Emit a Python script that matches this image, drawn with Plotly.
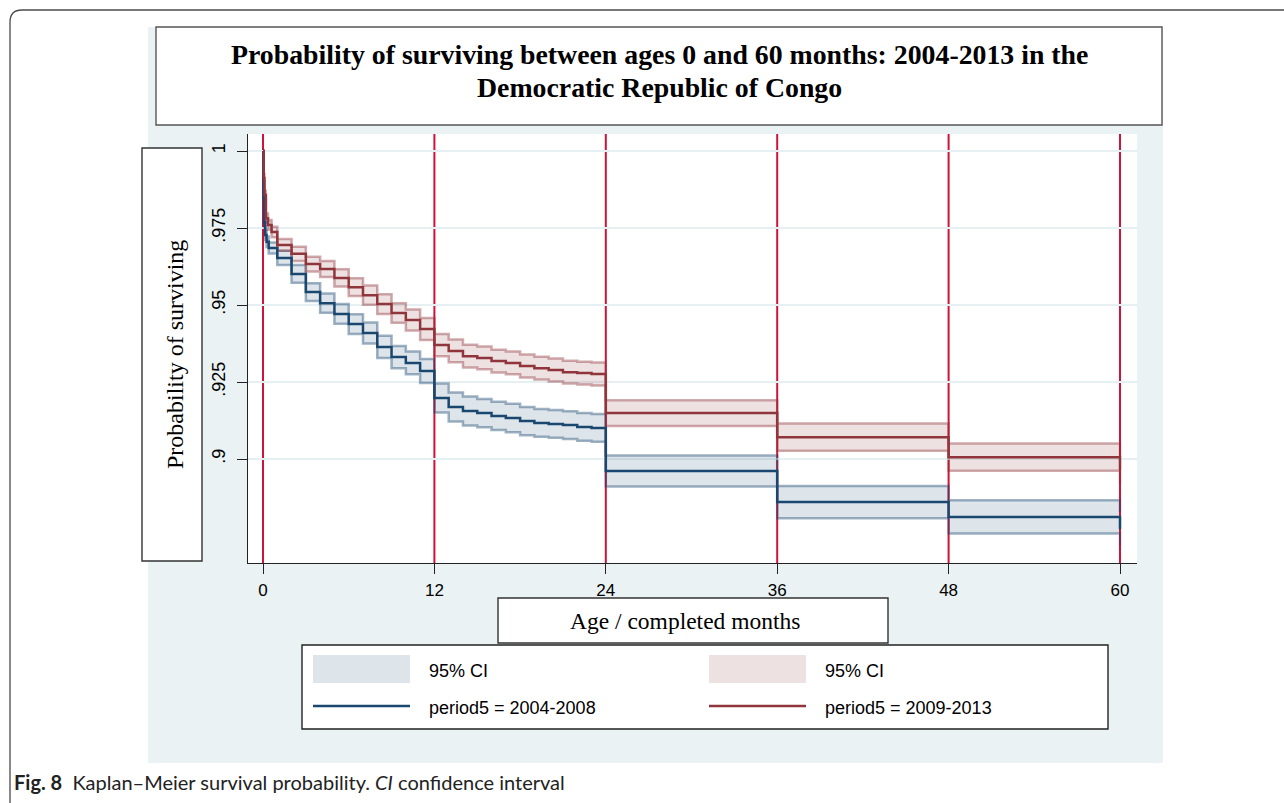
import plotly.graph_objects as go

# ---- Kaplan-Meier estimates by period (age in completed months) ----
months_2004 = [0, 0.03, 0.08, 0.15, 0.25, 0.4, 1, 2, 3, 4, 5, 6, 7, 8, 9, 10, 11,
               12, 13, 14, 15, 16, 17, 18, 19, 20, 21, 22, 23, 24, 36, 48, 60]
surv_2004 = [1.0, 0.9851, 0.9769, 0.9727, 0.9705, 0.9685, 0.9653, 0.9601, 0.9542,
             0.9506, 0.9471, 0.9438, 0.9409, 0.9364, 0.9331, 0.9312, 0.9286,
             0.9198, 0.9169, 0.9156, 0.9149, 0.9140, 0.9133, 0.9123, 0.9117,
             0.9114, 0.9110, 0.9104, 0.9101, 0.8961, 0.8860, 0.8812, 0.8773]
lower_2004 = [1.0, 0.9839, 0.9755, 0.9711, 0.9688, 0.9667, 0.9630, 0.9572, 0.9513,
              0.9475, 0.9439, 0.9406, 0.9375, 0.9328, 0.9295, 0.9275, 0.9247,
              0.9151, 0.9122, 0.9109, 0.9103, 0.9094, 0.9087, 0.9077, 0.9072,
              0.9069, 0.9065, 0.9059, 0.9056, 0.8911, 0.8808, 0.8758, 0.8718]
upper_2004 = [1.0, 0.9863, 0.9783, 0.9743, 0.9722, 0.9703, 0.9676, 0.9630, 0.9571,
              0.9537, 0.9503, 0.9470, 0.9443, 0.9400, 0.9367, 0.9349, 0.9325,
              0.9245, 0.9216, 0.9203, 0.9195, 0.9186, 0.9179, 0.9169, 0.9162,
              0.9159, 0.9155, 0.9149, 0.9146, 0.9011, 0.8912, 0.8866, 0.8828]

months_2009 = [0, 0.05, 0.1, 0.2, 0.35, 0.6, 1, 2, 3, 4, 5, 6, 7, 8, 9, 10, 11,
               12, 13, 14, 15, 16, 17, 18, 19, 20, 21, 22, 23, 24, 36, 48, 60]
surv_2009 = [1.0, 0.9912, 0.9857, 0.9782, 0.9760, 0.9737, 0.9695, 0.9666, 0.9633,
             0.9617, 0.9588, 0.9558, 0.9532, 0.9503, 0.9474, 0.9451, 0.9422,
             0.9370, 0.9351, 0.9334, 0.9328, 0.9318, 0.9312, 0.9302, 0.9295,
             0.9289, 0.9282, 0.9279, 0.9276, 0.9149, 0.9071, 0.9006, 0.8964]
lower_2009 = [1.0, 0.9899, 0.9843, 0.9767, 0.9744, 0.9720, 0.9676, 0.9643, 0.9609,
              0.9591, 0.9560, 0.9529, 0.9501, 0.9471, 0.9442, 0.9417, 0.9386,
              0.9334, 0.9314, 0.9297, 0.9291, 0.9281, 0.9275, 0.9265, 0.9258,
              0.9252, 0.9245, 0.9242, 0.9239, 0.9107, 0.9027, 0.8962, 0.8920]
upper_2009 = [1.0, 0.9925, 0.9871, 0.9797, 0.9776, 0.9754, 0.9714, 0.9689, 0.9657,
              0.9643, 0.9616, 0.9587, 0.9563, 0.9535, 0.9506, 0.9485, 0.9458,
              0.9406, 0.9388, 0.9371, 0.9365, 0.9355, 0.9349, 0.9339, 0.9332,
              0.9326, 0.9319, 0.9316, 0.9313, 0.9191, 0.9115, 0.9050, 0.9008]

period_labels = ["period5 = 2004-2008", "period5 = 2009-2013"]
ci_label = "95% CI"
x_ticks = [0, 12, 24, 36, 48, 60]
y_ticks = [0.9, 0.925, 0.95, 0.975, 1.0]
y_ticktext = [".9", ".925", ".95", ".975", "1"]
year_lines = [0, 12, 24, 36, 48, 60]

title_lines = ["Probability of surviving between ages 0 and 60 months: 2004-2013 in the",
               "Democratic Republic of Congo"]
y_title = "Probability of surviving"
x_title = "Age / completed months"
caption = ("<b>Fig. 8</b>&nbsp;&nbsp;Kaplan–Meier survival probability. "
           "<i>CI</i> confidence interval")

# ---- page geometry (pixels) ----
W, H = 1284, 803
PL, PR, PT, PB = 248, 1137, 134, 563


def px(x):
    return (x - PL) / (PR - PL)


def py(y):
    return (PB - y) / (PB - PT)


NAVY = (26, 71, 111)
MAROON = (144, 53, 59)


def rgba(c, a):
    return f"rgba({c[0]},{c[1]},{c[2]},{a})"


SERIF = "Liberation Serif, Times New Roman, serif"
SANS = "Liberation Sans, Arial, sans-serif"

fig = go.Figure()

groups = [
    (months_2004, surv_2004, lower_2004, upper_2004, NAVY),
    (months_2009, surv_2009, lower_2009, upper_2009, MAROON),
]

# confidence bands
for t, s, lo, hi, col in groups:
    edge = dict(shape="hv", color=rgba(col, 0.42), width=2.5)
    fig.add_trace(go.Scatter(x=t, y=hi, mode="lines", line=edge,
                             hoverinfo="skip", showlegend=False))
    fig.add_trace(go.Scatter(x=t, y=lo, mode="lines", line=edge, fill="tonexty",
                             fillcolor=rgba(col, 0.15), hoverinfo="skip",
                             showlegend=False))

# survival step functions
for (t, s, lo, hi, col), name in zip(groups, period_labels):
    fig.add_trace(go.Scatter(x=t, y=s, mode="lines", name=name,
                             line=dict(shape="hv", color=rgba(col, 1), width=2.5),
                             showlegend=False))

shapes = []


def box(x0, y0, x1, y1, fill="white", line="#555555", lw=1.4, layer="below"):
    shapes.append(dict(type="rect", xref="paper", yref="paper",
                       x0=px(x0), x1=px(x1), y0=py(y1), y1=py(y0),
                       fillcolor=fill, line=dict(color=line, width=lw), layer=layer))


# outer frame with rounded corner
frame = (f"M {px(10)} {py(806)} L {px(10)} {py(22)} "
         f"Q {px(10)} {py(10)} {px(22)} {py(10)} L {px(1290)} {py(10)}")
shapes.append(dict(type="path", xref="paper", yref="paper", path=frame,
                   line=dict(color="#4a4a4a", width=1.3), layer="below"))

# graph region background and white plot region
box(148, 27, 1163, 763, fill="#EAF2F3", line="rgba(0,0,0,0)", lw=0)
box(PL, PT, PR, PB, fill="white", line="rgba(0,0,0,0)", lw=0)

# title / axis-title / legend boxes
box(156, 27, 1162, 125)
box(142, 148, 202, 561, line="#333333")
box(498, 598, 888, 643, line="#333333")
box(302, 645, 1108, 729, line="#222222")

# vertical reference lines at each year of age
for m in year_lines:
    shapes.append(dict(type="line", xref="x", yref="paper", x0=m, x1=m, y0=0, y1=1,
                       line=dict(color="#CF1238", width=2), layer="between"))

# legend keys
for (t, s, lo, hi, col), kx in zip(groups, [313, 709]):
    box(kx, 655, kx + 97, 683, fill=rgba(col, 0.15), line="rgba(0,0,0,0)", lw=0,
        layer="above")
    shapes.append(dict(type="line", xref="paper", yref="paper",
                       x0=px(kx), x1=px(kx + 97), y0=py(706), y1=py(706),
                       line=dict(color=rgba(col, 1), width=2.5), layer="above"))

annotations = []
for line_text, ly in zip(title_lines, [55, 87]):
    annotations.append(dict(text=f"<b>{line_text}</b>", x=px(659), y=py(ly),
                            xref="paper", yref="paper", xanchor="center",
                            yanchor="middle", showarrow=False,
                            font=dict(family=SERIF, size=27.8, color="black")))
annotations += [
    dict(text=y_title, x=px(175), y=py(355), xref="paper", yref="paper",
         xanchor="center", yanchor="middle", showarrow=False, textangle=-90,
         font=dict(family=SERIF, size=24, color="black")),
    dict(text=x_title, x=px(685), y=py(621), xref="paper", yref="paper",
         xanchor="center", yanchor="middle", showarrow=False,
         font=dict(family=SERIF, size=23.5, color="black")),
    dict(text=caption, x=px(12), y=py(782), xref="paper", yref="paper",
         xanchor="left", yanchor="middle", showarrow=False,
         font=dict(family="Lato, Noto Sans, sans-serif", size=20, color="#222222")),
]
for kx in [427, 823]:
    annotations.append(dict(text=ci_label, x=px(kx), y=py(671), xref="paper",
                            yref="paper", xanchor="left", yanchor="middle",
                            showarrow=False, font=dict(family=SANS, size=18, color="black")))
for kx, lab in zip([427, 823], period_labels):
    annotations.append(dict(text=lab, x=px(kx), y=py(708), xref="paper",
                            yref="paper", xanchor="left", yanchor="middle",
                            showarrow=False, font=dict(family=SANS, size=18, color="black")))

x_left = -(263 - PL) / 14.283
x_right = 60 + (PR - 1120) / 14.283
y_bottom = 0.9 - (PB - 459) / 3080
y_top = 1.0 + (151 - PT) / 3080

fig.update_layout(
    width=W, height=H,
    margin=dict(l=PL, r=W - PR, t=PT, b=H - PB, pad=0),
    paper_bgcolor="white", plot_bgcolor="white",
    showlegend=False, hovermode=False,
    shapes=shapes, annotations=annotations,
    xaxis=dict(range=[x_left, x_right], tickvals=x_ticks, ticks="outside",
               ticklen=10, tickwidth=1.2, tickcolor="#222222", showline=True,
               linecolor="#222222", linewidth=1.2, showgrid=False, zeroline=False,
               ticklabelstandoff=1,
               tickfont=dict(family=SANS, size=17, color="black")),
    yaxis=dict(range=[y_bottom, y_top], tickvals=y_ticks, ticktext=y_ticktext,
               tickangle=-90, ticks="outside", ticklen=10, tickwidth=1.2,
               tickcolor="#222222", showline=True, linecolor="#222222",
               linewidth=1.2, showgrid=True, gridcolor="#E6EFF1", gridwidth=2,
               zeroline=False, ticklabelstandoff=5,
               tickfont=dict(family=SANS, size=18, color="black")),
)

fig.write_html("out.html")
